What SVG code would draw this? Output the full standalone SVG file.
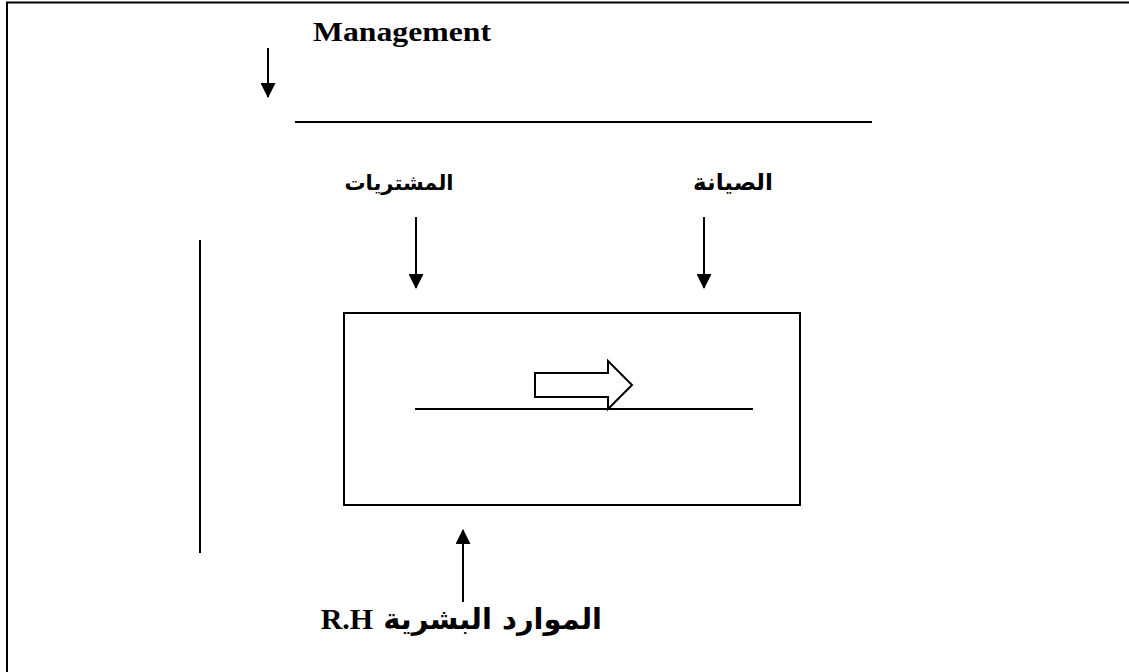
<svg xmlns="http://www.w3.org/2000/svg" width="1129" height="672" viewBox="0 0 1129 672">
<style>
.ln{stroke:#000;stroke-width:2;fill:none}
.ar{font-family:"DejaVu Sans","Noto Sans",sans-serif;font-weight:bold;fill:#000}
.en{font-family:"Liberation Serif","Times New Roman",serif;font-weight:bold;fill:#000}
</style>
<defs>
<marker id="ah" markerWidth="15" markerHeight="15" refX="14" refY="7.5" orient="auto" markerUnits="userSpaceOnUse">
<path d="M0,0 L15,7.5 L0,15 Z" fill="#000"/>
</marker>
</defs>
<rect width="1129" height="672" fill="#fff"/>
<g id="frame">
<path class="ln" d="M7,672 V2.5 H1129" stroke-width="2.5"/>
</g>
<g id="management">
<text class="en" x="313" y="41" style="font-size:28px" textLength="178" lengthAdjust="spacingAndGlyphs">Management</text>
</g>
<g id="top-line">
<line class="ln" x1="295" y1="122" x2="872" y2="122"/>
</g>
<g id="purchases">
<text class="ar" x="399" y="190" text-anchor="middle" direction="rtl" style="font-size:21px">المشتريات</text>
</g>
<g id="maintenance">
<text class="ar" x="733" y="190" text-anchor="middle" direction="rtl" style="font-size:23px">الصيانة</text>
</g>
<g id="left-line">
<line class="ln" x1="200" y1="240" x2="200" y2="553"/>
</g>
<g id="process-box">
<rect class="ln" x="344" y="313" width="456" height="192"/>
<line class="ln" x1="415" y1="409" x2="753" y2="409"/>
<path d="M535,373 H608 V361 L632,385 L608,409 V397 H535 Z" fill="#fff" stroke="#000" stroke-width="2" stroke-linejoin="miter"/>
</g>
<g id="hr">
<text x="602" y="629" direction="rtl" text-anchor="start"><tspan class="ar" style="font-size:29px">الموارد البشرية </tspan><tspan class="en" style="font-size:30px">R.H</tspan></text>
</g>
<g id="connectors">
<line class="ln" x1="268" y1="48" x2="268" y2="97" marker-end="url(#ah)"/>
<line class="ln" x1="416" y1="217" x2="416" y2="288" marker-end="url(#ah)"/>
<line class="ln" x1="704" y1="217" x2="704" y2="288" marker-end="url(#ah)"/>
<line class="ln" x1="463" y1="602" x2="463" y2="530" marker-end="url(#ah)"/>
</g>
</svg>
